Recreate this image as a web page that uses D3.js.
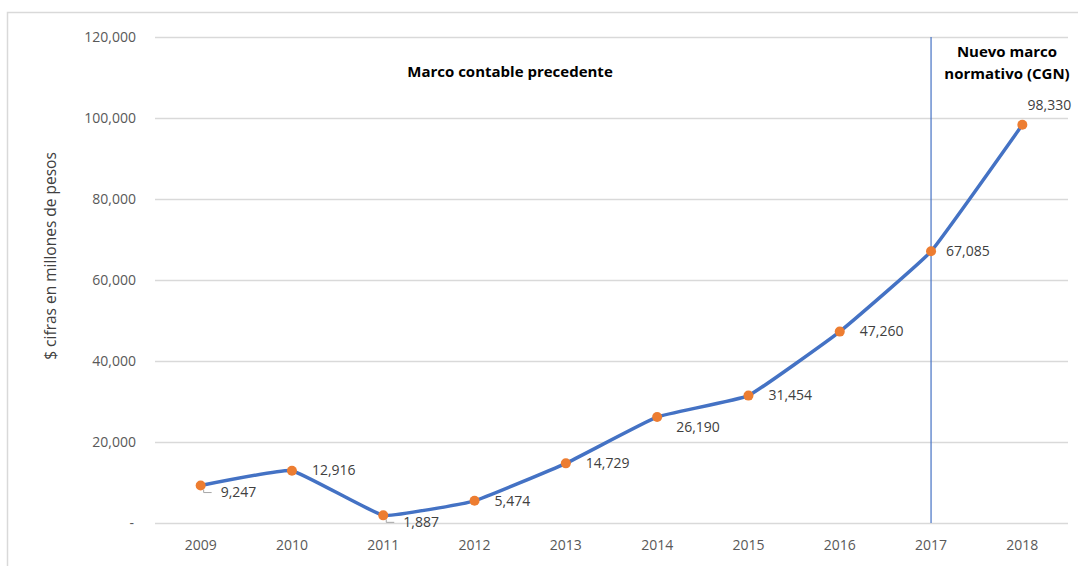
<!DOCTYPE html>
<html>
<head>
<meta charset="utf-8">
<script src="https://cdn.jsdelivr.net/npm/d3@7"></script>
<style>
  html, body { margin: 0; padding: 0; background: #fff; }
  svg { display: block; font-family: "Open Sans", "Noto Sans", sans-serif; }
</style>
</head>
<body>
<svg id="chart" width="1078" height="566"></svg>
<script>
const years = ["2009","2010","2011","2012","2013","2014","2015","2016","2017","2018"];
const values = [9247, 12916, 1887, 5474, 14729, 26190, 31454, 47260, 67085, 98330];
const yTicks = [0, 20000, 40000, 60000, 80000, 100000, 120000];
// label placement: r = right, br = below-right, lead = below-right with leader, t = above
const labelPos = ["lead","r","lead","r","r","br","r","r","r","t"];
const yTitle = "$ cifras en millones de pesos";
const leftNote = "Marco contable precedente";
const rightNote = ["Nuevo marco", "normativo (CGN)"];
const splitYear = "2017";

const svg = d3.select("#chart");
const W = 1078, H = 566;
const plot = {left: 155, right: 1068, top: 37, bottom: 523};

// frame
svg.append("rect").attr("x", 7.5).attr("y", 12.5).attr("width", W + 10).attr("height", H + 10)
  .attr("fill", "none").attr("stroke", "#d9d9d9").attr("stroke-width", 1.5);

const x = d3.scaleBand().domain(years).range([plot.left, plot.right]).padding(0);
const y = d3.scaleLinear().domain([0, 120000]).range([plot.bottom, plot.top]);
const cx = d => x(d) + x.bandwidth() / 2;

// gridlines + y axis
const yAxis = d3.axisLeft(y).tickValues(yTicks)
  .tickSize(-(plot.right - plot.left))
  .tickFormat(d => d === 0 ? "-" : d3.format(",")(d));
const gy = svg.append("g").attr("transform", `translate(${plot.left},0)`).call(yAxis);
gy.select(".domain").remove();
gy.selectAll(".tick line").attr("stroke", "#d9d9d9").attr("stroke-width", 1.5);
gy.selectAll(".tick text").attr("x", -19).attr("fill", "#595959")
  .style("font-size", "14px").style("font-family", "'Open Sans', sans-serif");
gy.selectAll(".tick text").filter(d => d === 0).attr("x", -21);

// x axis
const xAxis = d3.axisBottom(x).tickSize(0);
const gx = svg.append("g").attr("transform", `translate(0,${plot.bottom})`).call(xAxis);
gx.select(".domain").remove();
gx.selectAll(".tick text").attr("y", 17).attr("dy", "0.71em").attr("fill", "#595959")
  .style("font-size", "14px").style("font-family", "'Open Sans', sans-serif");

// vertical divider
svg.append("line")
  .attr("x1", cx(splitYear)).attr("x2", cx(splitYear))
  .attr("y1", plot.top).attr("y2", plot.bottom)
  .attr("stroke", "#4472c4").attr("stroke-width", 1.2);

// y title
svg.append("text")
  .attr("transform", `translate(56,256) rotate(-90)`)
  .attr("text-anchor", "middle")
  .attr("fill", "#404040")
  .style("font-size", "15.5px")
  .text(yTitle);

// notes
svg.append("text").attr("x", 510).attr("y", 73).attr("text-anchor", "middle")
  .attr("dominant-baseline", "middle")
  .attr("fill", "#000").style("font-size", "15px").style("font-weight", "bold")
  .text(leftNote);
rightNote.forEach((t, i) => {
  svg.append("text").attr("x", 1007).attr("y", 53 + i * 22).attr("text-anchor", "middle")
    .attr("dominant-baseline", "middle")
    .attr("fill", "#000").style("font-size", "15px").style("font-weight", "bold")
    .text(t);
});

// line
const data = years.map((yr, i) => ({yr, v: values[i], pos: labelPos[i]}));
const line = d3.line().x(d => cx(d.yr)).y(d => y(d.v)).curve(d3.curveCardinal.tension(0.7));
svg.append("path").datum(data).attr("d", line)
  .attr("fill", "none").attr("stroke", "#4472c4").attr("stroke-width", 3.5)
  .attr("stroke-linejoin", "round").attr("stroke-linecap", "round");

// markers
svg.selectAll("circle.pt").data(data).enter().append("circle")
  .attr("class", "pt")
  .attr("cx", d => cx(d.yr)).attr("cy", d => y(d.v)).attr("r", 5)
  .attr("fill", "#ed7d31");

// labels
const fmt = d3.format(",");
data.forEach(d => {
  const px = cx(d.yr), py = y(d.v);
  let tx, ty, anchor = "start";
  if (d.pos === "r") { tx = px + 20; ty = py + 1; if (d.yr === "2017") tx = px + 15; }
  else if (d.pos === "br") { tx = px + 19; ty = py + 11; }
  else if (d.pos === "lead") { tx = px + 20; ty = py + 8;
    svg.append("path")
      .attr("d", `M${px + 3},${py + 4} L${px + 3},${py + 7} L${px + 11},${py + 7}`)
      .attr("fill", "none").attr("stroke", "#a6a6a6").attr("stroke-width", 1);
  }
  else if (d.pos === "t") { tx = px + 27; ty = py - 19; anchor = "middle"; }
  svg.append("text").attr("x", tx).attr("y", ty).attr("text-anchor", anchor)
    .attr("dominant-baseline", "middle")
    .attr("fill", "#404040").style("font-size", "14px")
    .text(fmt(d.v));
});
</script>
</body>
</html>
